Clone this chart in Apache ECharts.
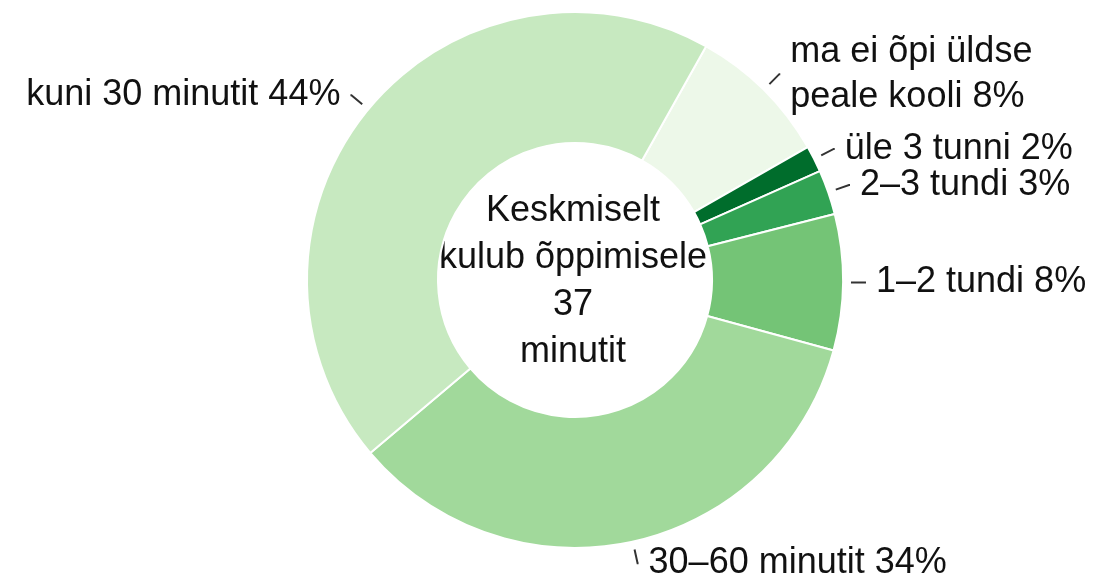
<!DOCTYPE html>
<html>
<head>
<meta charset="utf-8">
<script src="https://cdn.jsdelivr.net/npm/echarts@6/dist/echarts.min.js"></script>
<style>
  html, body { margin: 0; padding: 0; background: #fff; }
  #chart { width: 1097px; height: 588px; }
</style>
</head>
<body>
<div id="chart"></div>
<script>
// slices clockwise, starting from the top-right boundary
const categories = ['ma ei õpi üldse\npeale kooli', 'üle 3 tunni', '2–3 tundi', '1–2 tundi', '30–60 minutit', 'kuni 30 minutit']
const values = [8.6, 1.6, 2.7, 8.2, 34.6, 44.3]
const shownPct = [8, 2, 3, 8, 34, 44]
const colors = ['#edf8e9', '#006d2c', '#31a354', '#74c476', '#a1d99b', '#c7e9c0']
const centerText = ['Keskmiselt', 'kulub õppimisele', '37', 'minutit']

const font = '"Liberation Sans", Arial, Helvetica, sans-serif'
const cx = 575
const cy = 280

const chart = echarts.init(document.getElementById('chart'))

const sliceData = categories.map((name, i) => ({
  name,
  value: values[i],
  itemStyle: { color: colors[i] }
}))

// label carriers; the two-line label gets a taller line
const labelData = categories.map((name, i) => ({
  name,
  value: values[i],
  label: name.includes('\n') ? { lineHeight: 45 } : {}
}))

chart.setOption({
  animation: false,
  graphic: [{
    type: 'text',
    x: cx - 2,
    y: cy + 2,
    style: {
      text: centerText.join('\n'),
      align: 'center',
      verticalAlign: 'middle',
      fontSize: 36,
      lineHeight: 47,
      fontFamily: font,
      fill: '#111'
    }
  }],
  series: [
    {
      // the donut itself
      type: 'pie',
      center: [cx, cy],
      radius: [137, 268],
      startAngle: 60.7,
      clockwise: true,
      silent: true,
      label: { show: false },
      labelLine: { show: false },
      itemStyle: { borderColor: '#fff', borderWidth: 2 },
      data: sliceData
    },
    {
      // invisible ring carrying the labels, so leader lines start off the edge
      type: 'pie',
      center: [cx, cy],
      radius: [268, 276],
      startAngle: 60.7,
      clockwise: true,
      silent: true,
      avoidLabelOverlap: false,
      itemStyle: { color: 'rgba(0,0,0,0)' },
      label: {
        show: true,
        position: 'outside',
        fontSize: 36,
        lineHeight: 32,
        fontFamily: font,
        color: '#111',
        distanceToLabelLine: 10,
        formatter: p => p.name + ' ' + shownPct[p.dataIndex] + '%'
      },
      labelLine: {
        show: true,
        length: 14,
        length2: 1,
        lineStyle: { color: '#333', width: 2 }
      },
      data: labelData
    }
  ]
})
</script>
</body>
</html>
